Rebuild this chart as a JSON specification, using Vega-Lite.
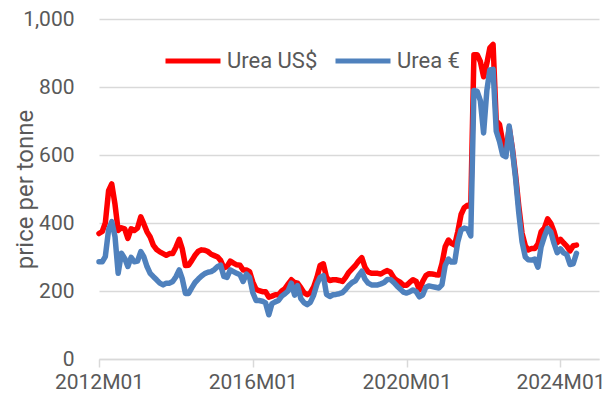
{
  "$schema": "https://vega.github.io/schema/vega-lite/v6.json",
  "autosize": "none",
  "width": 500,
  "height": 340,
  "padding": {"left": 99, "top": 19, "right": 8, "bottom": 42},
  "background": "white",
  "config": {"view": {"stroke": null}, "font": "Roboto"},
  "data": {"values": [
    {"month":"2012-01-01","Urea US$":369,"Urea €":286},
    {"month":"2012-02-01","Urea US$":375,"Urea €":286},
    {"month":"2012-03-01","Urea US$":400,"Urea €":301},
    {"month":"2012-04-01","Urea US$":495,"Urea €":380},
    {"month":"2012-05-01","Urea US$":515,"Urea €":404},
    {"month":"2012-06-01","Urea US$":455,"Urea €":360},
    {"month":"2012-07-01","Urea US$":378,"Urea €":252},
    {"month":"2012-08-01","Urea US$":386,"Urea €":311},
    {"month":"2012-09-01","Urea US$":383,"Urea €":296},
    {"month":"2012-10-01","Urea US$":355,"Urea €":272},
    {"month":"2012-11-01","Urea US$":383,"Urea €":299},
    {"month":"2012-12-01","Urea US$":378,"Urea €":286},
    {"month":"2013-01-01","Urea US$":385,"Urea €":288},
    {"month":"2013-02-01","Urea US$":418,"Urea €":316},
    {"month":"2013-03-01","Urea US$":398,"Urea €":301},
    {"month":"2013-04-01","Urea US$":374,"Urea €":272},
    {"month":"2013-05-01","Urea US$":359,"Urea €":252},
    {"month":"2013-06-01","Urea US$":334,"Urea €":242},
    {"month":"2013-07-01","Urea US$":322,"Urea €":233},
    {"month":"2013-08-01","Urea US$":315,"Urea €":223},
    {"month":"2013-09-01","Urea US$":310,"Urea €":218},
    {"month":"2013-10-01","Urea US$":305,"Urea €":223},
    {"month":"2013-11-01","Urea US$":310,"Urea €":223},
    {"month":"2013-12-01","Urea US$":310,"Urea €":228},
    {"month":"2014-01-01","Urea US$":329,"Urea €":242},
    {"month":"2014-02-01","Urea US$":352,"Urea €":262},
    {"month":"2014-03-01","Urea US$":325,"Urea €":237},
    {"month":"2014-04-01","Urea US$":275,"Urea €":193},
    {"month":"2014-05-01","Urea US$":276,"Urea €":193},
    {"month":"2014-06-01","Urea US$":290,"Urea €":210},
    {"month":"2014-07-01","Urea US$":305,"Urea €":225},
    {"month":"2014-08-01","Urea US$":317,"Urea €":235},
    {"month":"2014-09-01","Urea US$":321,"Urea €":244},
    {"month":"2014-10-01","Urea US$":320,"Urea €":251},
    {"month":"2014-11-01","Urea US$":316,"Urea €":255},
    {"month":"2014-12-01","Urea US$":308,"Urea €":257},
    {"month":"2015-01-01","Urea US$":304,"Urea €":263},
    {"month":"2015-02-01","Urea US$":300,"Urea €":272},
    {"month":"2015-03-01","Urea US$":290,"Urea €":276},
    {"month":"2015-04-01","Urea US$":268,"Urea €":243},
    {"month":"2015-05-01","Urea US$":272,"Urea €":240},
    {"month":"2015-06-01","Urea US$":288,"Urea €":262},
    {"month":"2015-07-01","Urea US$":282,"Urea €":257},
    {"month":"2015-08-01","Urea US$":277,"Urea €":252},
    {"month":"2015-09-01","Urea US$":276,"Urea €":248},
    {"month":"2015-10-01","Urea US$":262,"Urea €":228},
    {"month":"2015-11-01","Urea US$":262,"Urea €":250},
    {"month":"2015-12-01","Urea US$":257,"Urea €":240},
    {"month":"2016-01-01","Urea US$":226,"Urea €":195},
    {"month":"2016-02-01","Urea US$":205,"Urea €":172},
    {"month":"2016-03-01","Urea US$":201,"Urea €":172},
    {"month":"2016-04-01","Urea US$":198,"Urea €":170},
    {"month":"2016-05-01","Urea US$":198,"Urea €":165},
    {"month":"2016-06-01","Urea US$":182,"Urea €":130},
    {"month":"2016-07-01","Urea US$":185,"Urea €":163},
    {"month":"2016-08-01","Urea US$":189,"Urea €":168},
    {"month":"2016-09-01","Urea US$":189,"Urea €":172},
    {"month":"2016-10-01","Urea US$":200,"Urea €":185},
    {"month":"2016-11-01","Urea US$":207,"Urea €":192},
    {"month":"2016-12-01","Urea US$":220,"Urea €":200},
    {"month":"2017-01-01","Urea US$":233,"Urea €":223},
    {"month":"2017-02-01","Urea US$":225,"Urea €":188},
    {"month":"2017-03-01","Urea US$":223,"Urea €":216},
    {"month":"2017-04-01","Urea US$":210,"Urea €":178},
    {"month":"2017-05-01","Urea US$":195,"Urea €":166},
    {"month":"2017-06-01","Urea US$":189,"Urea €":160},
    {"month":"2017-07-01","Urea US$":195,"Urea €":167},
    {"month":"2017-08-01","Urea US$":212,"Urea €":188},
    {"month":"2017-09-01","Urea US$":240,"Urea €":220},
    {"month":"2017-10-01","Urea US$":275,"Urea €":240},
    {"month":"2017-11-01","Urea US$":280,"Urea €":245},
    {"month":"2017-12-01","Urea US$":240,"Urea €":190},
    {"month":"2018-01-01","Urea US$":231,"Urea €":184},
    {"month":"2018-02-01","Urea US$":233,"Urea €":189},
    {"month":"2018-03-01","Urea US$":233,"Urea €":190},
    {"month":"2018-04-01","Urea US$":231,"Urea €":192},
    {"month":"2018-05-01","Urea US$":228,"Urea €":195},
    {"month":"2018-06-01","Urea US$":240,"Urea €":205},
    {"month":"2018-07-01","Urea US$":255,"Urea €":216},
    {"month":"2018-08-01","Urea US$":265,"Urea €":225},
    {"month":"2018-09-01","Urea US$":275,"Urea €":230},
    {"month":"2018-10-01","Urea US$":288,"Urea €":245},
    {"month":"2018-11-01","Urea US$":298,"Urea €":258},
    {"month":"2018-12-01","Urea US$":270,"Urea €":235},
    {"month":"2019-01-01","Urea US$":256,"Urea €":223},
    {"month":"2019-02-01","Urea US$":252,"Urea €":218},
    {"month":"2019-03-01","Urea US$":252,"Urea €":218},
    {"month":"2019-04-01","Urea US$":252,"Urea €":218},
    {"month":"2019-05-01","Urea US$":250,"Urea €":221},
    {"month":"2019-06-01","Urea US$":256,"Urea €":225},
    {"month":"2019-07-01","Urea US$":260,"Urea €":234},
    {"month":"2019-08-01","Urea US$":255,"Urea €":234},
    {"month":"2019-09-01","Urea US$":239,"Urea €":225},
    {"month":"2019-10-01","Urea US$":231,"Urea €":215},
    {"month":"2019-11-01","Urea US$":226,"Urea €":206},
    {"month":"2019-12-01","Urea US$":217,"Urea €":197},
    {"month":"2020-01-01","Urea US$":217,"Urea €":194},
    {"month":"2020-02-01","Urea US$":226,"Urea €":198},
    {"month":"2020-03-01","Urea US$":233,"Urea €":203},
    {"month":"2020-04-01","Urea US$":228,"Urea €":198},
    {"month":"2020-05-01","Urea US$":203,"Urea €":183},
    {"month":"2020-06-01","Urea US$":228,"Urea €":188},
    {"month":"2020-07-01","Urea US$":245,"Urea €":211},
    {"month":"2020-08-01","Urea US$":251,"Urea €":215},
    {"month":"2020-09-01","Urea US$":250,"Urea €":213},
    {"month":"2020-10-01","Urea US$":248,"Urea €":211},
    {"month":"2020-11-01","Urea US$":247,"Urea €":209},
    {"month":"2020-12-01","Urea US$":280,"Urea €":218},
    {"month":"2021-01-01","Urea US$":330,"Urea €":275},
    {"month":"2021-02-01","Urea US$":350,"Urea €":294},
    {"month":"2021-03-01","Urea US$":340,"Urea €":285},
    {"month":"2021-04-01","Urea US$":335,"Urea €":285},
    {"month":"2021-05-01","Urea US$":375,"Urea €":345},
    {"month":"2021-06-01","Urea US$":425,"Urea €":380},
    {"month":"2021-07-01","Urea US$":445,"Urea €":385},
    {"month":"2021-08-01","Urea US$":452,"Urea €":382},
    {"month":"2021-09-01","Urea US$":450,"Urea €":362},
    {"month":"2021-10-01","Urea US$":895,"Urea €":790},
    {"month":"2021-11-01","Urea US$":895,"Urea €":787},
    {"month":"2021-12-01","Urea US$":875,"Urea €":760},
    {"month":"2022-01-01","Urea US$":830,"Urea €":665},
    {"month":"2022-02-01","Urea US$":870,"Urea €":790},
    {"month":"2022-03-01","Urea US$":915,"Urea €":850},
    {"month":"2022-04-01","Urea US$":925,"Urea €":852},
    {"month":"2022-05-01","Urea US$":700,"Urea €":670},
    {"month":"2022-06-01","Urea US$":690,"Urea €":640},
    {"month":"2022-07-01","Urea US$":640,"Urea €":600},
    {"month":"2022-08-01","Urea US$":605,"Urea €":595},
    {"month":"2022-09-01","Urea US$":680,"Urea €":685},
    {"month":"2022-10-01","Urea US$":620,"Urea €":615},
    {"month":"2022-11-01","Urea US$":540,"Urea €":530},
    {"month":"2022-12-01","Urea US$":450,"Urea €":430},
    {"month":"2023-01-01","Urea US$":370,"Urea €":345},
    {"month":"2023-02-01","Urea US$":333,"Urea €":300},
    {"month":"2023-03-01","Urea US$":321,"Urea €":292},
    {"month":"2023-04-01","Urea US$":325,"Urea €":291},
    {"month":"2023-05-01","Urea US$":325,"Urea €":294},
    {"month":"2023-06-01","Urea US$":338,"Urea €":270},
    {"month":"2023-07-01","Urea US$":374,"Urea €":330},
    {"month":"2023-08-01","Urea US$":385,"Urea €":360},
    {"month":"2023-09-01","Urea US$":412,"Urea €":384},
    {"month":"2023-10-01","Urea US$":399,"Urea €":374},
    {"month":"2023-11-01","Urea US$":374,"Urea €":340},
    {"month":"2023-12-01","Urea US$":342,"Urea €":313},
    {"month":"2024-01-01","Urea US$":352,"Urea €":324},
    {"month":"2024-02-01","Urea US$":341,"Urea €":312},
    {"month":"2024-03-01","Urea US$":332,"Urea €":307},
    {"month":"2024-04-01","Urea US$":318,"Urea €":278},
    {"month":"2024-05-01","Urea US$":333,"Urea €":280},
    {"month":"2024-06-01","Urea US$":335,"Urea €":311}
  ]},
  "transform": [{"fold": ["Urea US$", "Urea €"], "as": ["series", "price"]}],
  "mark": {"type": "line", "strokeWidth": 5.5, "strokeJoin": "round", "strokeCap": "round"},
  "encoding": {
    "x": {
      "field": "month", "type": "temporal",
      "scale": {"type": "utc", "domain": [{"year": 2012, "month": 1, "date": 1, "utc": true}, {"year": 2025, "month": 1, "date": 1, "utc": true}]},
      "axis": {
        "title": null,
        "values": [{"year": 2012, "month": 1, "date": 1, "utc": true}, {"year": 2016, "month": 1, "date": 1, "utc": true}, {"year": 2020, "month": 1, "date": 1, "utc": true}, {"year": 2024, "month": 1, "date": 1, "utc": true}],
        "labelExpr": "utcFormat(datum.value, '%YM%m')",
        "grid": false,
        "domainColor": "#d9d9d9", "domainWidth": 1.5,
        "tickColor": "#d9d9d9", "tickWidth": 1.5, "tickSize": 8,
        "labelFont": "Roboto", "labelFontSize": 21, "labelColor": "#595959",
        "labelPadding": 4, "labelFlush": false, "labelOverlap": false
      }
    },
    "y": {
      "field": "price", "type": "quantitative",
      "scale": {"domain": [0, 1000], "nice": false, "zero": true},
      "axis": {
        "title": "price per tonne",
        "values": [0, 200, 400, 600, 800, 1000],
        "format": ",d",
        "domain": false, "ticks": false,
        "gridColor": "#d9d9d9", "gridWidth": 1.5,
        "labelFont": "Roboto", "labelFontSize": 21, "labelColor": "#595959",
        "labelPadding": 25,
        "titleFont": "Roboto", "titleFontSize": 24, "titleFontWeight": "normal", "titleColor": "#595959",
        "titleX": -74, "titleY": 170, "titleAngle": -90, "titleAlign": "center", "titleBaseline": "middle"
      }
    },
    "color": {
      "field": "series", "type": "nominal",
      "scale": {"domain": ["Urea US$", "Urea €"], "range": ["#FF0000", "#4F81BD"]},
      "legend": {
        "orient": "none", "legendX": 64, "legendY": 12, "direction": "horizontal",
        "title": null, "symbolType": "stroke", "symbolSize": 3025, "symbolStrokeWidth": 5,
        "labelFont": "Roboto", "labelFontSize": 22, "labelColor": "#595959",
        "labelOffset": 4, "columnPadding": 7, "padding": 0
      }
    }
  }
}
